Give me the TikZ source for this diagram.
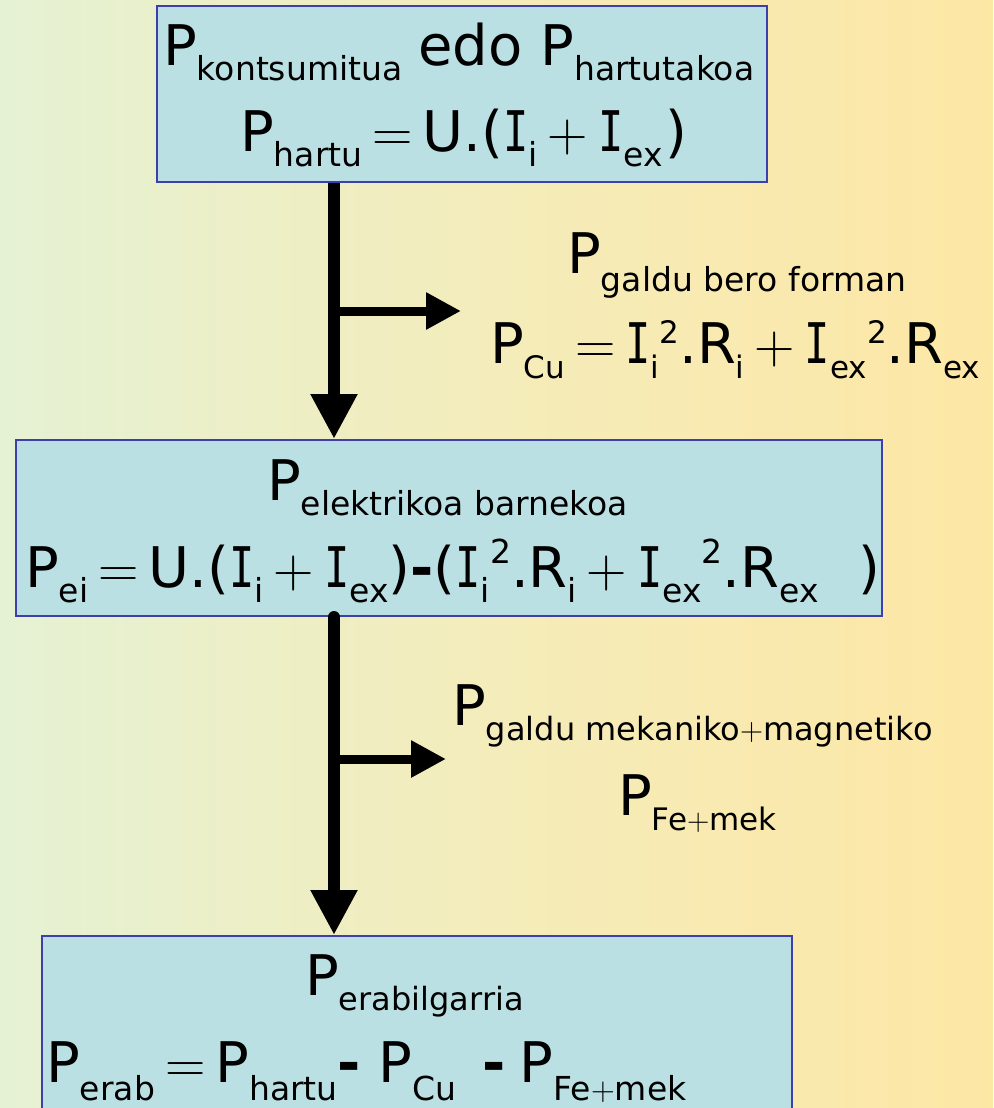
\documentclass[tikz,border=0pt]{standalone}
\usepackage{fontspec}
\setmainfont{DejaVu Sans}
\newfontfamily\monofont{DejaVu Sans Mono}
\newfontfamily\lmfont{Latin Modern Roman}
\usetikzlibrary{arrows.meta}
\definecolor{bgL}{RGB}{229,242,212}
\definecolor{bgM}{RGB}{244,236,186}
\definecolor{bgR}{RGB}{253,231,165}
\definecolor{boxfill}{RGB}{187,224,228}
\definecolor{boxline}{RGB}{62,62,172}
\newcommand\sbq[3]{\raisebox{-#2pt}{\fontsize{#1}{#1}\selectfont #3}}
\newcommand\spq[3]{\raisebox{#2pt}{\fontsize{#1}{#1}\selectfont #3}}
\newcommand\II{\scalebox{0.75}[1]{\monofont I}}
\newcommand\mn{\textbf{-}}
\newcommand\eqs{\hspace{10pt}{\lmfont =}\hspace{10pt}}
\newcommand\pls{\hspace{10pt}{\lmfont +}\hspace{10pt}}
\newcommand\spl{{\lmfont +}}
\begin{document}
\begin{tikzpicture}[x=1pt,y=-1pt,
  panel/.style={draw=boxline,line width=2pt,fill=boxfill,inner sep=0pt},
  txt/.style={inner sep=0pt,anchor=base west,font=\fontsize{56}{60}\selectfont},
  bigarrow/.style={line width=12pt,-{Triangle[width=44pt,length=45pt]}},
  smallarrow/.style={line width=9pt,-{Triangle[width=35pt,length=35pt]}}]
\useasboundingbox (0,0) rectangle (993,1108);
\begin{scope}
\clip (0,0) rectangle (993,1108);
\shade[left color=bgL,right color=bgR,middle color=bgM] (0,0) rectangle (993,1108);
% boxes
\node[panel,minimum width=610pt,minimum height=176pt] (b1) at (462,94) {};
\node[panel,minimum width=866pt,minimum height=176pt] (b2) at (449,528) {};
\node[panel,minimum width=750pt,minimum height=200pt] (b3) at (417,1036) {};
% coordinates for arrows
\coordinate (ax) at (334,0);
\coordinate (j1) at (334,311);
\coordinate (t1) at (461,311);
\coordinate (j2) at (334,759);
\coordinate (t2) at (446,759);
\draw[bigarrow] (b1.south -| ax) -- (b2.north -| ax);
\draw[bigarrow,line cap=round] (b2.south -| ax) -- (b3.north -| ax);
\draw[smallarrow] (j1) -- (t1);
\draw[smallarrow] (j2) -- (t2);
% texts
\node[txt] (l1) at (163,66) {P\sbq{33}{15}{kontsumitua}\hspace{16pt}edo P\sbq{33}{15}{hartutakoa}};
\node[txt] (l2) at (240,151) {P\sbq{33}{15}{hartu}\eqs U.(\II\sbq{33}{15}{i}\pls\II\sbq{33}{15}{ex}\hspace{3pt})};
\node[txt] (l3) at (567,273) {P\sbq{33}{18}{galdu bero forman}};
\node[txt] (l4) at (490,363) {P\sbq{31}{15}{Cu}\eqs\II\sbq{31}{15}{i}\spq{31}{20}{2}.R\sbq{31}{15}{i}\pls\II\sbq{31}{15}{ex}\spq{31}{20}{2}.R\sbq{31}{15}{ex}};
\node[txt] (l5) at (267,500) {P\sbq{33}{15}{elektrikoa barnekoa}};
\node[txt] (l6) at (25,587) {P\sbq{33}{15}{ei}\eqs U.(\II\sbq{33}{15}{i}\pls\II\sbq{33}{15}{ex})\mn(\II\sbq{33}{15}{i}\spq{33}{24}{2}.R\sbq{33}{15}{i}\pls\II\sbq{33}{15}{ex}\spq{33}{24}{2}.R\sbq{33}{15}{ex}\hspace{40pt})};
\node[txt] (l7) at (452,725) {P\sbq{32}{15}{galdu mekaniko\spl magnetiko}};
\node[txt] (l8) at (618,815) {P\sbq{31}{15}{Fe\spl mek}};
\node[txt] (l9) at (305,995) {P\sbq{32}{15}{erabilgarria}};
\node[txt] (l10) at (46,1082) {P\sbq{33}{18}{erab}\eqs P\sbq{33}{18}{hartu}\mn\hspace{18pt}P\sbq{33}{18}{Cu}\hspace{26pt}\mn\hspace{14pt}P\sbq{33}{18}{Fe\spl mek}};
\end{scope}
\end{tikzpicture}
\end{document}
